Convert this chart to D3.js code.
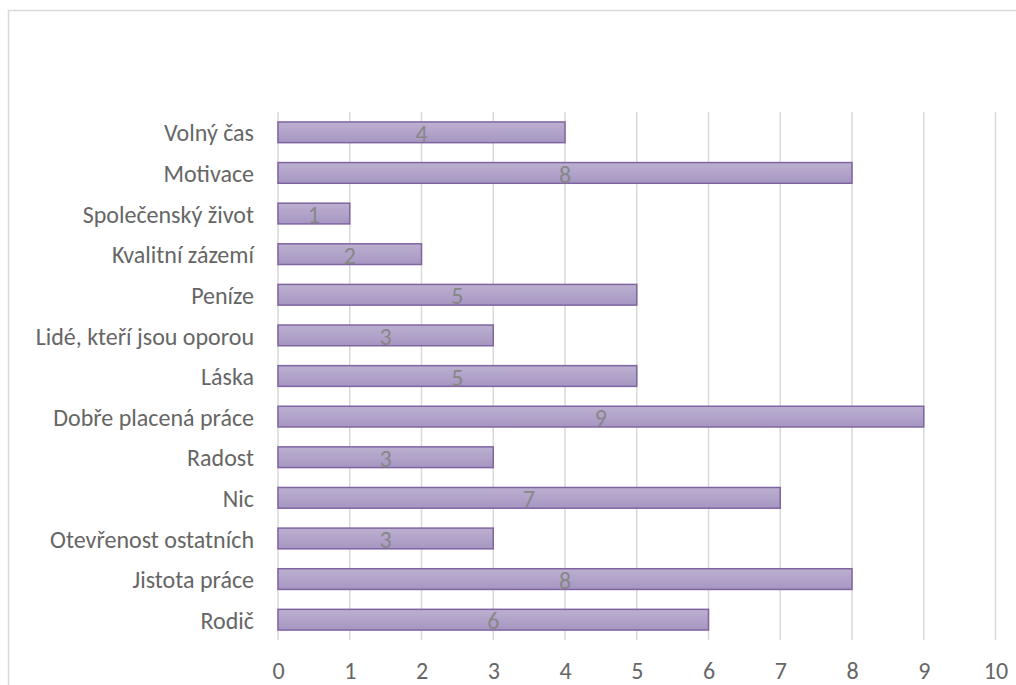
<!DOCTYPE html>
<html>
<head>
<meta charset="utf-8">
<script src="https://cdn.jsdelivr.net/npm/d3@7"></script>
<style>
  html, body { margin: 0; padding: 0; background: #fff; }
  svg { display: block; }
</style>
</head>
<body>
<svg id="chart" width="1016" height="685"></svg>
<script>
// Categories listed top to bottom, with their counts
const categories = [
  "Volný čas", "Motivace", "Společenský život", "Kvalitní zázemí", "Peníze",
  "Lidé, kteří jsou oporou", "Láska", "Dobře placená práce", "Radost", "Nic",
  "Otevřenost ostatních", "Jistota práce", "Rodič"
];
const values = [4, 8, 1, 2, 5, 3, 5, 9, 3, 7, 3, 8, 6];
const xTicks = [0, 1, 2, 3, 4, 5, 6, 7, 8, 9, 10];

const FONT = "Carlito, Lato, 'Open Sans', sans-serif";
const svg = d3.select("#chart");

// outer chart frame
svg.append("rect")
  .attr("x", 8.5).attr("y", 10.5)
  .attr("width", 1020).attr("height", 700)
  .attr("fill", "#fff").attr("stroke", "#d9d9d9").attr("stroke-width", 1.5);

const plot = { left: 278, right: 995.5, top: 112, bottom: 640 };

const x = d3.scaleLinear().domain([0, 10]).range([plot.left, plot.right]);
const y = d3.scaleBand().domain(categories).range([plot.top, plot.bottom]).paddingInner(0.49).paddingOuter(0.245);

// bar fill gradient
const defs = svg.append("defs");
const grad = defs.append("linearGradient").attr("id", "barGrad")
  .attr("x1", 0).attr("y1", 0).attr("x2", 0).attr("y2", 1);
grad.append("stop").attr("offset", "0%").attr("stop-color", "#bcb0d0");
grad.append("stop").attr("offset", "100%").attr("stop-color", "#a696c2");

// vertical gridlines
svg.append("g").selectAll("line").data(xTicks).join("line")
  .attr("x1", d => x(d)).attr("x2", d => x(d))
  .attr("y1", plot.top).attr("y2", plot.bottom)
  .attr("stroke", "#d9d9d9").attr("stroke-width", 1.5);

// bars
svg.append("g").selectAll("rect").data(values).join("rect")
  .attr("x", x(0))
  .attr("y", (d, i) => y(categories[i]))
  .attr("width", d => x(d) - x(0))
  .attr("height", y.bandwidth())
  .attr("fill", "url(#barGrad)")
  .attr("stroke", "#8064a2").attr("stroke-width", 1.5);

// value labels centred in each bar
svg.append("g").selectAll("text").data(values).join("text")
  .attr("x", d => (x(0) + x(d)) / 2)
  .attr("y", (d, i) => y(categories[i]) + y.bandwidth() / 2)
  .attr("dy", "0.4em")
  .attr("text-anchor", "middle")
  .attr("font-family", FONT).attr("font-size", 24).attr("font-weight", 300)
  .attr("fill", "#878787")
  .text(d => d);

// category axis
const yAxis = svg.append("g")
  .attr("transform", `translate(${plot.left},0)`)
  .call(d3.axisLeft(y).tickSize(0).tickPadding(24));
yAxis.select(".domain").remove();
yAxis.selectAll("text")
  .attr("dy", "0.38em")
  .attr("font-family", FONT).attr("font-size", 24).attr("font-weight", 300)
  .attr("fill", "#666666");

// value axis
const xAxis = svg.append("g")
  .attr("transform", `translate(0,${plot.bottom})`)
  .call(d3.axisBottom(x).tickValues(xTicks).tickSize(0).tickPadding(22).tickFormat(d3.format("d")));
xAxis.select(".domain").remove();
xAxis.selectAll("text")
  .attr("font-family", FONT).attr("font-size", 24).attr("font-weight", 300)
  .attr("fill", "#666666");
</script>
</body>
</html>
